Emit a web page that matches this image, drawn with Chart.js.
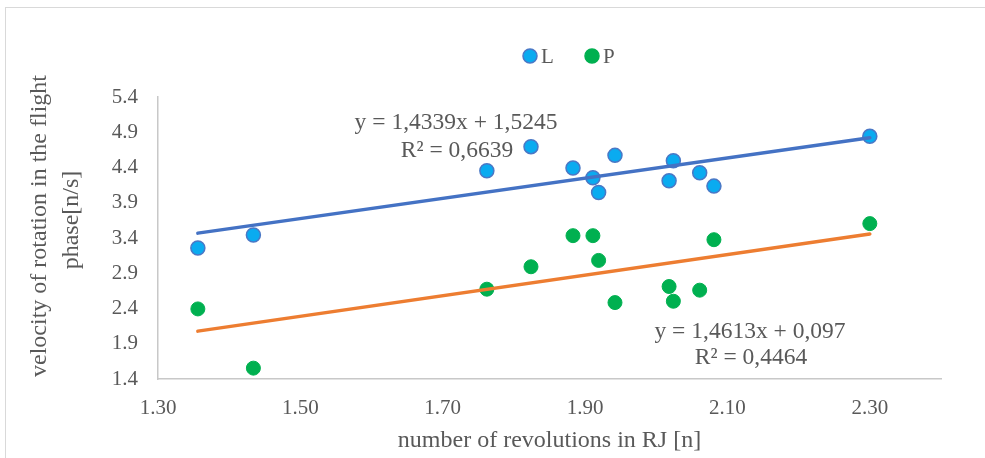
<!DOCTYPE html>
<html><head><meta charset="utf-8">
<script src="https://cdn.jsdelivr.net/npm/chart.js@4"></script>
<style>html,body{margin:0;padding:0;background:#fff}#wrap{width:985px;height:458px}</style>
</head><body><div id="wrap"><canvas id="c" width="985" height="458"></canvas></div>
<script>
// ---- data ----
const xValues = [1.356, 1.434, 1.762, 1.824, 1.883, 1.911, 1.919, 1.942, 2.018, 2.024, 2.061, 2.081, 2.300];
const yL      = [3.258, 3.443, 4.354, 4.695, 4.392, 4.254, 4.045, 4.572, 4.211, 4.496, 4.325, 4.136, 4.842];
const yP      = [2.394, 1.554, 2.674, 2.992, 3.433, 3.433, 3.082, 2.484, 2.712, 2.503, 2.660, 3.376, 3.604];
const trendX  = [1.356, 2.300];
const trendLY = [3.469, 4.822];
const trendPY = [2.079, 3.458];
const seriesNames = ['L', 'P'];
const xTicks = [1.30, 1.50, 1.70, 1.90, 2.10, 2.30];
const yTicks = [1.4, 1.9, 2.4, 2.9, 3.4, 3.9, 4.4, 4.9, 5.4];
const eqL = ['y = 1,4339x + 1,5245', 'R² = 0,6639'];
const eqP = ['y = 1,4613x + 0,097', 'R² = 0,4464'];
const xTitle = 'number of revolutions in RJ [n]';
const yTitle = ['velocity of rotation in the flight', 'phase[n/s]'];

const TXT = '#595959';
const SERIF = '"Liberation Serif", "Times New Roman", serif';
const blueFill = '#0aabf0', blueBorder = '#4a78c6', green = '#00b050';

const pts = (xs, ys) => xs.map((x, i) => ({x: x, y: ys[i]}));

const deco = {
  id: 'deco',
  afterDraw(chart) {
    const ctx = chart.ctx;
    const xs = chart.scales.x;
    ctx.save();
    // chart frame
    ctx.strokeStyle = '#d9d9d9'; ctx.lineWidth = 1;
    ctx.strokeRect(5.5, 7.5, 990, 470);
    ctx.fillStyle = TXT;
    // legend
    ctx.font = '21px ' + SERIF;
    ctx.textBaseline = 'middle'; ctx.textAlign = 'left';
    const leg = [[530, blueFill, blueBorder], [592, green, green]];
    leg.forEach((l, i) => {
      ctx.beginPath(); ctx.arc(l[0], 56, 7, 0, Math.PI * 2);
      ctx.fillStyle = l[1]; ctx.fill();
      ctx.lineWidth = 1.5; ctx.strokeStyle = l[2]; ctx.stroke();
      ctx.fillStyle = TXT;
      ctx.fillText(seriesNames[i], l[0] + 11, 57);
    });
    // equations
    ctx.font = '23.5px ' + SERIF; ctx.textAlign = 'center';
    ctx.fillText(eqL[0], 456, 123);
    ctx.fillText(eqL[1], 457, 151);
    ctx.fillText(eqP[0], 750, 332);
    ctx.fillText(eqP[1], 751, 358);
    // x title
    ctx.font = '24px ' + SERIF;
    ctx.fillText(xTitle, (xs.left + xs.right) / 2, 441);
    // y title
    ctx.save();
    ctx.translate(40, 226); ctx.rotate(-Math.PI / 2);
    ctx.fillText(yTitle[0], 0, 0);
    ctx.restore();
    ctx.save();
    ctx.translate(72, 220); ctx.rotate(-Math.PI / 2);
    ctx.fillText(yTitle[1], 0, 0);
    ctx.restore();
    ctx.restore();
  }
};

new Chart(document.getElementById('c'), {
  type: 'scatter',
  data: {
    datasets: [
      {label: 'L trend', type: 'line', data: pts(trendX, trendLY), borderColor: '#4472c4', borderWidth: 3.5,
       pointRadius: 0, fill: false, order: 0, borderCapStyle: 'round'},
      {label: 'P trend', type: 'line', data: pts(trendX, trendPY), borderColor: '#ed7d31', borderWidth: 3.5,
       pointRadius: 0, fill: false, order: 0, borderCapStyle: 'round'},
      {label: seriesNames[0], data: pts(xValues, yL), backgroundColor: blueFill, borderColor: blueBorder,
       borderWidth: 1.5, pointRadius: 7, order: 1},
      {label: seriesNames[1], data: pts(xValues, yP), backgroundColor: green, borderColor: green,
       borderWidth: 1, pointRadius: 7, order: 1}
    ]
  },
  options: {
    responsive: false, animation: false, devicePixelRatio: 1,
    layout: {padding: {top: 97, right: 44, left: 0, bottom: 0}},
    plugins: {legend: {display: false}, tooltip: {enabled: false}},
    scales: {
      x: {
        type: 'linear', min: 1.3, max: 2.4,
        afterBuildTicks: s => { s.ticks = xTicks.map(v => ({value: v})); },
        afterFit: s => { s.height = 79; },
        grid: {display: false, drawTicks: false},
        border: {display: true, color: '#c8c8c8', width: 1.5},
        ticks: {color: TXT, font: {family: SERIF, size: 21}, padding: 17, maxRotation: 0,
                callback: v => Number(v).toFixed(2)}
      },
      y: {
        type: 'linear', min: 1.4, max: 5.4,
        afterBuildTicks: s => { s.ticks = yTicks.map(v => ({value: v})); },
        afterFit: s => { s.width = 158; },
        grid: {display: false, drawTicks: false},
        border: {display: true, color: '#c8c8c8', width: 1.5},
        ticks: {color: TXT, font: {family: SERIF, size: 21}, padding: 20,
                callback: v => Number(v).toFixed(1)}
      }
    }
  },
  plugins: [deco]
});
</script>
</body></html>
